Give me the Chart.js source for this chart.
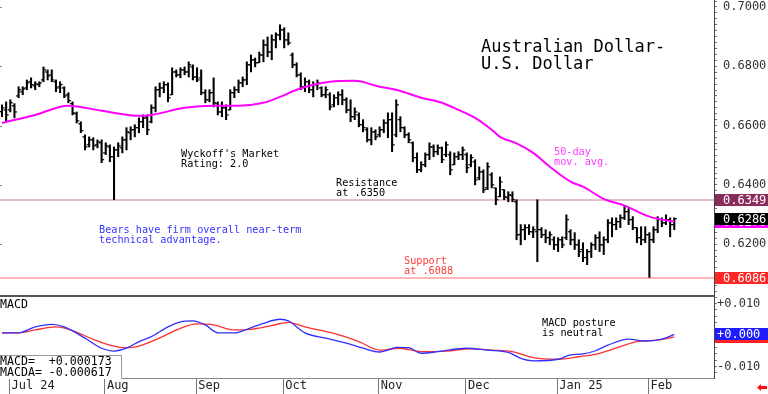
<!DOCTYPE html>
<html><head><meta charset="utf-8">
<script src="https://cdn.jsdelivr.net/npm/chart.js@4.4.1/dist/chart.umd.min.js"></script>
<style>
html,body{margin:0;padding:0;background:#fff;}
#wrap{position:relative;width:768px;height:394px;overflow:hidden;background:#fff;}
canvas{position:absolute;left:0;}
.t{position:absolute;font-family:'DejaVu Sans Mono',monospace;white-space:pre;color:#000;}
.s{font-size:10.2px;line-height:10.2px;}
</style></head><body>
<div id="wrap">
<canvas id="main" width="768" height="296" style="top:0;width:768px;height:296px"></canvas>
<canvas id="macd" width="768" height="97" style="top:297px;width:768px;height:97px"></canvas>
<div style="position:absolute;left:0;top:295px;width:715px;height:2px;background:#555"></div>
<div class="t" style="left:481px;top:38px;font-size:17px;line-height:17px">Australian Dollar-
U.S. Dollar</div>
<div class="t s" style="left:181px;top:148.5px">Wyckoff's Market
Rating: 2.0</div>
<div class="t s" style="left:336px;top:178px">Resistance
at .6350</div>
<div class="t s" style="left:554px;top:146.5px;color:#ff3cff">50-day
mov. avg.</div>
<div class="t s" style="left:99px;top:224.5px;color:#3535ff">Bears have firm overall near-term
technical advantage.</div>
<div class="t s" style="left:404px;top:255.5px;color:#ff3a3a">Support
at .6088</div>
<div class="t s" style="left:542px;top:317.5px">MACD posture
is neutral</div>
<div class="t" style="left:0;top:297.5px;font-size:11.6px;line-height:12px">MACD</div>
<div style="position:absolute;left:0;top:355px;width:121px;height:23px;border-top:1px solid #999;border-right:1px solid #999;background:#fff"></div>
<div class="t" style="left:0;top:356px;font-size:11.6px;line-height:10.7px">MACD=  +0.000173
MACDA= -0.000617</div>
<svg style="position:absolute;left:757px;top:384px" width="10" height="7" viewBox="0 0 10 7"><polygon points="0,3.5 4,0 4,2 10,2 10,5 4,5 4,7" fill="#ff1010"/></svg>
</div>
<script>
// ---- data ----
const monthLabels = ['Jul 24','Aug','Sep','Oct','Nov','Dec','Jan 25','Feb'];
const monthStartIdx = [2, 25, 47, 68, 91, 112, 134, 156];

const highs = [
.6670,.6680,.6687,.6674,.6731,.6731,.6754,.6761,.6748,.6748,
.6798,.6788,.6788,.6754,.6748,.6731,.6711,.6680,.6646,.6613,
.6569,.6562,.6559,.6552,.6552,.6542,.6535,.6528,.6542,.6562,
.6593,.6596,.6603,.6626,.6636,.6636,.6670,.6731,.6744,.6748,
.6744,.6795,.6788,.6795,.6798,.6815,.6805,.6795,.6788,.6721,
.6721,.6761,.6680,.6680,.6670,.6721,.6731,.6754,.6764,.6815,
.6838,.6828,.6848,.6889,.6899,.6906,.6913,.6940,.6930,.6913,
.6845,.6812,.6778,.6761,.6754,.6748,.6754,.6731,.6731,.6711,
.6704,.6714,.6721,.6694,.6687,.6660,.6643,.6620,.6593,.6593,
.6586,.6596,.6620,.6643,.6643,.6687,.6630,.6596,.6576,.6545,
.6508,.6478,.6508,.6542,.6535,.6535,.6528,.6545,.6512,.6508,
.6512,.6528,.6508,.6502,.6485,.6461,.6451,.6475,.6441,.6390,
.6427,.6384,.6377,.6377,.6350,.6266,.6266,.6266,.6259,.6350,
.6256,.6249,.6242,.6225,.6222,.6225,.6299,.6249,.6239,.6215,
.6205,.6182,.6205,.6232,.6242,.6225,.6283,.6289,.6289,.6299,
.6330,.6323,.6293,.6256,.6259,.6259,.6239,.6259,.6293,.6289,
.6299,.6289,.6289];
const lows = [
.6630,.6613,.6646,.6626,.6694,.6704,.6721,.6727,.6721,.6731,
.6748,.6754,.6748,.6714,.6711,.6694,.6677,.6636,.6609,.6576,
.6518,.6528,.6518,.6525,.6475,.6502,.6478,.6350,.6495,.6508,
.6518,.6552,.6562,.6576,.6593,.6569,.6609,.6646,.6697,.6711,
.6680,.6704,.6764,.6761,.6771,.6764,.6754,.6748,.6704,.6677,
.6680,.6663,.6636,.6630,.6620,.6653,.6694,.6711,.6731,.6738,
.6781,.6798,.6812,.6815,.6832,.6822,.6862,.6889,.6862,.6872,
.6795,.6764,.6721,.6714,.6711,.6697,.6721,.6697,.6694,.6653,
.6663,.6670,.6670,.6643,.6613,.6620,.6596,.6579,.6545,.6535,
.6552,.6562,.6576,.6559,.6512,.6562,.6579,.6559,.6542,.6478,
.6441,.6444,.6461,.6485,.6495,.6502,.6475,.6495,.6434,.6468,
.6485,.6485,.6441,.6461,.6400,.6417,.6374,.6384,.6390,.6333,
.6360,.6350,.6343,.6343,.6215,.6198,.6215,.6232,.6222,.6141,
.6222,.6205,.6198,.6182,.6175,.6188,.6215,.6198,.6182,.6158,
.6141,.6131,.6155,.6182,.6175,.6165,.6205,.6225,.6249,.6256,
.6283,.6266,.6249,.6205,.6198,.6205,.6088,.6205,.6239,.6259,
.6266,.6225,.6249];
const opens = [
.6647,.6653,.6653,.6667,.6700,.6714,.6727,.6748,.6734,.6738,
.6754,.6781,.6771,.6748,.6731,.6727,.6704,.6674,.6640,.6606,
.6562,.6535,.6552,.6535,.6542,.6508,.6528,.6495,.6518,.6525,
.6552,.6576,.6586,.6593,.6613,.6626,.6613,.6660,.6721,.6727,
.6738,.6704,.6781,.6771,.6788,.6781,.6798,.6764,.6761,.6711,
.6687,.6711,.6674,.6646,.6660,.6653,.6711,.6721,.6744,.6754,
.6805,.6822,.6812,.6838,.6872,.6848,.6889,.6906,.6923,.6889,
.6838,.6805,.6771,.6731,.6748,.6721,.6738,.6727,.6704,.6704,
.6670,.6694,.6704,.6687,.6653,.6630,.6636,.6603,.6586,.6552,
.6579,.6569,.6586,.6609,.6620,.6569,.6620,.6593,.6569,.6542,
.6492,.6451,.6468,.6502,.6528,.6512,.6525,.6502,.6502,.6468,
.6495,.6502,.6502,.6468,.6478,.6424,.6444,.6390,.6434,.6390,
.6360,.6384,.6357,.6364,.6343,.6232,.6249,.6256,.6242,.6242,
.6249,.6232,.6222,.6215,.6198,.6215,.6222,.6242,.6215,.6198,
.6182,.6155,.6175,.6198,.6222,.6198,.6215,.6272,.6266,.6276,
.6289,.6310,.6283,.6256,.6222,.6215,.6232,.6215,.6249,.6283,
.6272,.6283,.6266];
const closes = [
.6660,.6636,.6677,.6646,.6721,.6724,.6744,.6738,.6741,.6744,
.6788,.6768,.6754,.6727,.6738,.6700,.6684,.6643,.6616,.6583,
.6528,.6552,.6532,.6545,.6485,.6532,.6495,.6518,.6532,.6552,
.6579,.6586,.6593,.6613,.6626,.6586,.6660,.6721,.6727,.6738,
.6694,.6781,.6771,.6788,.6781,.6805,.6764,.6754,.6711,.6687,
.6711,.6677,.6646,.6660,.6636,.6711,.6721,.6744,.6754,.6805,
.6822,.6812,.6838,.6872,.6848,.6889,.6906,.6923,.6889,.6879,
.6805,.6771,.6731,.6748,.6721,.6738,.6744,.6704,.6721,.6663,
.6694,.6704,.6687,.6653,.6630,.6646,.6603,.6593,.6552,.6579,
.6562,.6586,.6609,.6620,.6535,.6670,.6593,.6569,.6552,.6492,
.6451,.6468,.6502,.6528,.6512,.6525,.6485,.6535,.6451,.6495,
.6502,.6518,.6458,.6492,.6417,.6444,.6384,.6461,.6400,.6350,
.6410,.6360,.6367,.6350,.6232,.6249,.6256,.6242,.6249,.6249,
.6232,.6222,.6232,.6198,.6215,.6198,.6283,.6215,.6198,.6175,
.6155,.6175,.6198,.6222,.6198,.6215,.6272,.6266,.6276,.6289,
.6310,.6283,.6256,.6222,.6215,.6232,.6215,.6249,.6283,.6272,
.6283,.6266,.6286];

// 50-day moving average, read at these bar positions
const maIdx = [0,8,16,24,33,36,44,51,57,63,67,71,75,79,85,91,95,101,106,110,114,118,120,124,128,132,137,140,145,150,156,162];
const maVal = [.6609,.6636,.6667,.6650,.6633,.6636,.6660,.6667,.6667,.6677,.6697,.6721,.6738,.6748,.6751,.6731,.6721,.6694,.6677,.6653,.6626,.6586,.6562,.6540,.6508,.6461,.6411,.6394,.6353,.6330,.6293,.6276];

// MACD (blue) and MACDA (red), read at these bar positions
const macdIdx = [0,4,8,12,15,20,24,27,30,33,36,40,43,46,49,52,56,59,63,67,69,73,78,83,87,91,93,95,98,101,105,112,117,122,125,128,134,137,140,143,146,151,155,159,162];
const macdVal = [.0007,.0007,.0026,.0034,.0026,-.0010,-.0042,-.0051,-.0042,-.0021,-.0005,.0026,.0042,.0045,.0032,.0007,.0007,.0018,.0037,.0050,.0045,.0007,-.0010,-.0026,-.0042,-.0054,-.0048,-.0039,-.0040,-.0058,-.0053,-.0042,-.0048,-.0055,-.0074,-.0082,-.0077,-.0063,-.0060,-.0050,-.0032,-.0013,-.0019,-.0013,.0002];
const signalIdx = [0,4,8,13,17,22,26,29,33,38,43,47,51,56,60,65,69,73,80,86,91,96,101,107,113,118,123,128,134,139,144,149,153,158,162];
const signalVal = [.0007,.0007,.0016,.0026,.0014,-.0014,-.0032,-.0040,-.0035,-.0009,.0021,.0035,.0032,.0016,.0018,.0030,.0040,.0026,.0005,-.0021,-.0048,-.0042,-.0053,-.0051,-.0044,-.0048,-.0053,-.0072,-.0077,-.0069,-.0058,-.0037,-.0021,-.0016,-.0006];

const priceMajorTicks = [0.62, 0.64, 0.66, 0.68, 0.70];
const macdMajorTicks = [-0.01, 0, 0.01];
const resistance = 0.6349, support = 0.6086;
const lastMacd = 0.000173, lastSignal = -0.000617;

// ---- layout constants ----
const X_MIN = -0.48, X_MAX = 171.57;
const Y_MAX = 0.70236, Y_MIN = 0.60253;
const M_MAX = 0.012063, M_MIN = -0.013651;
const FONT = "'DejaVu Sans Mono', monospace";

const priceTickValues = [];
for (let k = 302; k <= 351; k++) priceTickValues.push(k * 0.002);
const macdTickValues = [];
for (let k = -6; k <= 6; k++) macdTickValues.push(k * 0.002);

const isMult = (v, step) => Math.abs(v / step - Math.round(v / step)) < 1e-6;

const n = highs.length;
const idx = highs.map((_, i) => i);
const hiLo = idx.map(i => ({x: i, y: [lows[i], highs[i]]}));
const openPts = idx.map(i => ({x: i - 0.36, y: opens[i]}));
const closePts = idx.map(i => ({x: i + 0.36, y: closes[i]}));
const maPts = maIdx.map((x, k) => ({x, y: maVal[k]}));
const macdPts = macdIdx.map((x, k) => ({x, y: macdVal[k]}));
const sigPts = signalIdx.map((x, k) => ({x, y: signalVal[k]}));

function valueBox(ctx, cy, bg, txt, fg, tx) {
  ctx.save();
  ctx.fillStyle = bg;
  ctx.fillRect(715, Math.round(cy - 6), 53, 12);
  ctx.fillStyle = fg;
  ctx.font = '12px ' + FONT;
  ctx.textBaseline = 'middle';
  ctx.textAlign = 'left';
  ctx.fillText(txt, tx, Math.round(cy - 6) + 6.5);
  ctx.restore();
}

const mainBoxes = {
  id: 'mainBoxes',
  afterDraw(chart) {
    const y = chart.scales.y, ctx = chart.ctx;
    ctx.save();
    ctx.fillStyle = '#888';
    priceMajorTicks.forEach(v => ctx.fillRect(0, Math.round(y.getPixelForValue(v)), 2, 1));
    ctx.restore();
    valueBox(ctx, y.getPixelForValue(maVal[maVal.length - 1]), '#ff00ff', maVal[maVal.length - 1].toFixed(4), '#fff', 723);
    valueBox(ctx, y.getPixelForValue(closes[n - 1]), '#000', closes[n - 1].toFixed(4), '#fff', 723);
    valueBox(ctx, y.getPixelForValue(resistance), '#8a2c5c', resistance.toFixed(4), '#fff', 723);
    valueBox(ctx, y.getPixelForValue(support), '#ff2626', support.toFixed(4), '#fff', 723);
  }
};

const macdBoxes = {
  id: 'macdBoxes',
  afterDraw(chart) {
    const y = chart.scales.y, ctx = chart.ctx;
    valueBox(ctx, y.getPixelForValue(lastSignal), '#ff2020', '', '#fff', 717);
    valueBox(ctx, y.getPixelForValue(lastMacd), '#1c1cff', '+0.000', '#fff', 717);
  }
};

Chart.defaults.font.family = FONT;

new Chart(document.getElementById('main'), {
  type: 'bar',
  data: {datasets: [
    {type: 'bar', data: hiLo, backgroundColor: '#000', barThickness: 1.4, borderWidth: 0, borderSkipped: false, grouped: false, order: 3},
    {type: 'line', data: openPts, showLine: false, borderWidth: 1, pointStyle: 'line', pointRadius: 1.1, pointBorderWidth: 1.2, pointBorderColor: '#000', pointBackgroundColor: '#000', order: 3},
    {type: 'line', data: closePts, showLine: false, borderWidth: 1, pointStyle: 'line', pointRadius: 1.1, pointBorderWidth: 1.2, pointBorderColor: '#000', pointBackgroundColor: '#000', order: 3},
    {type: 'line', data: maPts, borderColor: '#ff00ff', borderWidth: 2, pointRadius: 0, cubicInterpolationMode: 'monotone', order: 1},
    {type: 'line', data: [{x: X_MIN, y: resistance}, {x: X_MAX, y: resistance}], borderColor: '#c8809c', borderWidth: 1.2, pointRadius: 0, order: 10},
    {type: 'line', data: [{x: X_MIN, y: support}, {x: X_MAX, y: support}], borderColor: '#ff9c9c', borderWidth: 1.5, pointRadius: 0, order: 10}
  ]},
  options: {
    responsive: false, animation: false, events: [], devicePixelRatio: 1,
    layout: {padding: 0, autoPadding: false},
    plugins: {legend: {display: false}, tooltip: {enabled: false}},
    scales: {
      x: {type: 'linear', display: false, min: X_MIN, max: X_MAX, offset: false, grid: {offset: false}},
      y: {
        type: 'linear', position: 'right', min: Y_MIN, max: Y_MAX,
        afterBuildTicks: s => { s.ticks = priceTickValues.map(v => ({value: v})); },
        afterFit: s => { s.width = 54; s.paddingTop = 0; s.paddingBottom = 0; },
        ticks: {autoSkip: false, padding: 6, color: '#333', font: {family: FONT, size: 12, lineHeight: 0.1},
          callback: v => isMult(v, 0.02) ? v.toFixed(4) : ''},
        grid: {drawOnChartArea: false, tickLength: 3, color: '#777', tickColor: '#777'},
        border: {display: true, color: '#444', width: 1}
      }
    }
  },
  plugins: [mainBoxes]
});

new Chart(document.getElementById('macd'), {
  type: 'line',
  data: {datasets: [
    {data: macdPts, borderColor: '#3030ff', borderWidth: 1.3, pointRadius: 0, cubicInterpolationMode: 'monotone'},
    {data: sigPts, borderColor: '#ff3030', borderWidth: 1.3, pointRadius: 0, cubicInterpolationMode: 'monotone'}
  ]},
  options: {
    responsive: false, animation: false, events: [], devicePixelRatio: 1,
    layout: {padding: 0, autoPadding: false},
    plugins: {legend: {display: false}, tooltip: {enabled: false}},
    scales: {
      x: {
        type: 'linear', position: 'bottom', min: X_MIN, max: X_MAX, offset: false,
        afterBuildTicks: s => { s.ticks = monthStartIdx.map(v => ({value: v - 0.2})); },
        afterFit: s => { s.height = 16; s.paddingLeft = 0; s.paddingRight = 0; },
        ticks: {autoSkip: false, maxRotation: 0, minRotation: 0, align: 'start', labelOffset: 2, padding: -15,
          color: '#222', font: {family: FONT, size: 12, lineHeight: 1.2},
          callback: (v, i) => monthLabels[i]},
        grid: {drawOnChartArea: false, tickLength: 16, color: '#777', tickColor: '#777', offset: false},
        border: {display: true, color: '#888', width: 1}
      },
      y: {
        type: 'linear', position: 'right', min: M_MIN, max: M_MAX,
        afterBuildTicks: s => { s.ticks = macdTickValues.map(v => ({value: v})); },
        afterFit: s => { s.width = 54; s.paddingTop = 0; s.paddingBottom = 0; },
        ticks: {autoSkip: false, padding: 0, color: '#333', font: {family: FONT, size: 12, lineHeight: 0.1},
          callback: v => isMult(v, 0.01) ? ((v >= -1e-9 ? '+' : '-') + Math.abs(v).toFixed(3)) : ''},
        grid: {drawOnChartArea: false, tickLength: 3, color: '#777', tickColor: '#777'},
        border: {display: true, color: '#444', width: 1}
      }
    }
  },
  plugins: [macdBoxes]
});
</script>
</body></html>
